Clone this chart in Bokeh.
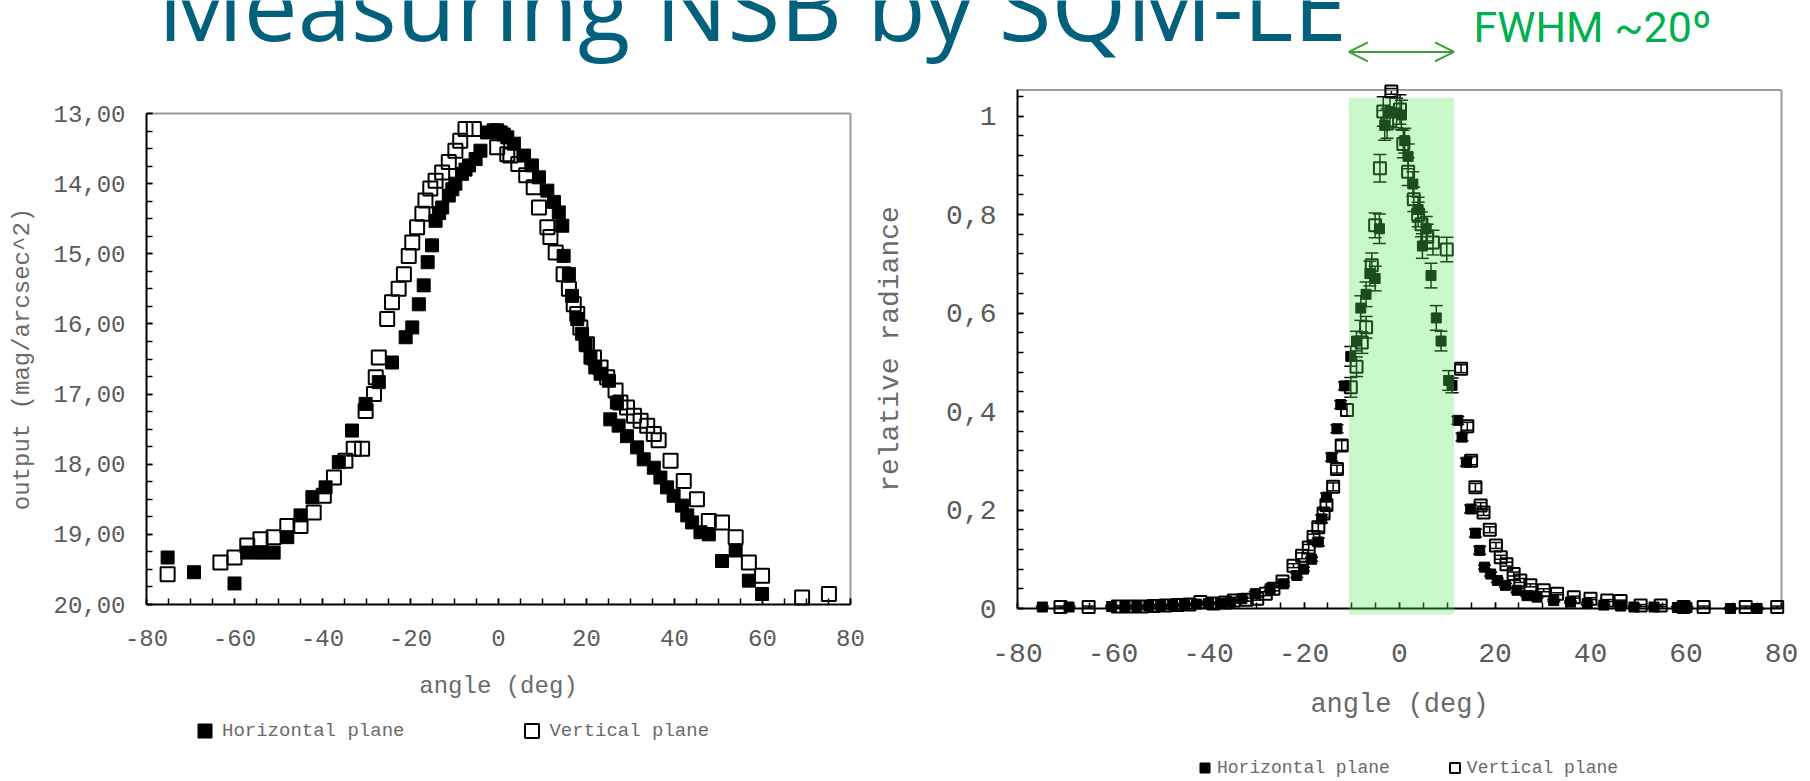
from bokeh.plotting import figure
from bokeh.models import (Range1d, LinearAxis, FixedTicker, CustomJSTickFormatter,
                          ColumnDataSource, Whisker, TeeHead, BoxAnnotation, Arrow,
                          OpenHead, Label, Legend, LegendItem)
from bokeh.embed import file_html
from bokeh.resources import INLINE

# ---------------- data ----------------
title_text = "Measuring NSB by SQM-LE"
fwhm_text = "FWHM ~20º"
fwhm_band = [-10.6, 11.4]            # angle range of shaded FWHM band (deg)
series_names = ["Horizontal plane", "Vertical plane"]
x_title = "angle (deg)"
left_y_title = "output (mag/arcsec^2)"
right_y_title = "relative radiance"
angle_ticks = [-80, -60, -40, -20, 0, 20, 40, 60, 80]
mag_ticks = [13, 14, 15, 16, 17, 18, 19, 20]
rad_ticks = [0, 0.2, 0.4, 0.6, 0.8, 1.0]

# left panel: sky brightness output (mag/arcsec^2)
mag_h_angle = [-75.2, -69.2, -60.0, -57.1, -54.1, -51.1, -48.0, -45.0, -42.3, -39.3,
               -36.3, -33.3, -30.2, -27.2, -24.2, -21.1, -19.6, -18.1, -17.0, -16.1,
               -15.1, -14.3, -13.5, -12.8, -11.3, -10.5, -9.8, -8.3, -7.5, -6.7,
               -5.2, -4.1, -2.6, -1.1, -0.3, 0.5, 1.2, 2.0, 3.5, 5.8,
               7.6, 9.2, 11.1, 12.6, 13.7, 14.5, 14.8, 16.0, 16.7, 17.9,
               19.0, 19.8, 20.9, 22.0, 23.2, 25.1, 26.9, 25.4, 27.3, 29.2,
               31.5, 33.0, 35.3, 36.8, 38.3, 39.8, 41.7, 42.9, 44.0, 45.9,
               47.8, 50.8, 53.9, 56.9, 59.9]
mag_h_value = [19.33, 19.54, 19.70, 19.26, 19.26, 19.26, 19.04, 18.73, 18.47, 18.33,
               17.97, 17.52, 17.14, 16.83, 16.55, 16.19, 16.05, 15.72, 15.45, 15.12,
               14.88, 14.53, 14.42, 14.34, 14.17, 14.08, 14.00, 13.86, 13.80, 13.74,
               13.65, 13.53, 13.27, 13.24, 13.24, 13.27, 13.30, 13.34, 13.43, 13.60,
               13.74, 13.91, 14.10, 14.26, 14.41, 14.60, 15.03, 15.29, 15.60, 15.93,
               16.14, 16.29, 16.48, 16.62, 16.71, 16.81, 17.12, 17.36, 17.45, 17.60,
               17.76, 17.93, 18.05, 18.19, 18.33, 18.45, 18.59, 18.73, 18.83, 18.97,
               19.00, 19.38, 19.23, 19.66, 19.85]
mag_v_angle = [-75.2, -63.2, -60.0, -57.1, -54.1, -51.1, -48.0, -45.0, -42.0, -39.7,
               -37.4, -34.8, -32.9, -31.0, -30.2, -28.3, -27.9, -27.2, -25.3, -24.2,
               -22.7, -21.5, -20.4, -19.6, -18.5, -17.3, -16.6, -15.5, -14.3, -12.8,
               -11.3, -9.8, -8.7, -7.5, -5.6, -0.3, 2.0, 2.7, 4.5, 6.3,
               8.0, 9.2, 11.1, 11.8, 13.0, 14.8, 16.0, 17.1, 17.9, 18.6,
               20.1, 21.7, 23.2, 24.7, 26.6, 27.7, 29.2, 30.8, 32.3, 33.8,
               35.3, 36.4, 39.1, 42.1, 45.1, 47.8, 50.8, 53.9, 56.9, 59.9,
               69.0, 75.1]
mag_v_value = [19.57, 19.40, 19.33, 19.16, 19.07, 19.04, 18.88, 18.88, 18.69, 18.45,
               18.19, 17.95, 17.78, 17.78, 17.24, 17.00, 16.76, 16.48, 15.93, 15.69,
               15.50, 15.29, 15.03, 14.84, 14.62, 14.43, 14.24, 14.07, 13.96, 13.84,
               13.69, 13.53, 13.39, 13.22, 13.22, 13.48, 13.58, 13.60, 13.72, 13.88,
               14.05, 14.34, 14.62, 14.76, 14.98, 15.29, 15.50, 15.72, 15.86, 16.05,
               16.29, 16.48, 16.62, 16.76, 16.95, 17.12, 17.19, 17.31, 17.38, 17.45,
               17.57, 17.66, 17.95, 18.24, 18.50, 18.81, 18.83, 19.04, 19.40, 19.59,
               19.90, 19.85]

# right panel: relative radiance with uncertainties
rad_h_angle = [-74.8, -69.2, -60.3, -57.5, -55.0, -52.5, -50.0, -47.5, -45.0, -42.5,
               -40.0, -37.5, -35.4, -33.0, -30.2, -27.1, -24.3, -21.5, -20.1, -18.4,
               -17.0, -16.3, -15.3, -14.2, -13.1, -12.3, -11.5, -10.2, -9.0, -8.1,
               -7.0, -6.2, -5.1, -4.2, -3.1, -2.0, -0.6, 0.4, 1.1, 1.8,
               2.8, 3.9, 4.8, 5.6, 6.6, 7.7, 8.7, 10.3, 11.0, 12.2,
               13.1, 14.0, 14.9, 15.9, 16.8, 17.8, 19.1, 20.5, 22.2, 24.6,
               26.7, 28.8, 32.3, 35.8, 39.3, 42.8, 46.3, 49.1, 53.3, 58.2,
               60.2, 69.3, 74.9]
rad_h_value = [0.003, 0.003, 0.004, 0.004, 0.004, 0.005, 0.006, 0.007, 0.008, 0.009,
               0.010, 0.011, 0.013, 0.020, 0.030, 0.040, 0.050, 0.067, 0.080, 0.100,
               0.135, 0.182, 0.226, 0.307, 0.365, 0.414, 0.452, 0.512, 0.543, 0.610,
               0.638, 0.680, 0.670, 0.771, 0.981, 1.009, 1.006, 1.002, 0.950, 0.918,
               0.862, 0.810, 0.736, 0.771, 0.676, 0.590, 0.543, 0.463, 0.453, 0.382,
               0.348, 0.297, 0.202, 0.153, 0.118, 0.084, 0.070, 0.057, 0.047, 0.037,
               0.026, 0.023, 0.016, 0.013, 0.010, 0.007, 0.005, 0.003, 0.003, 0.002,
               0.002, 0.000, 0.000]
rad_h_err = [0.002, 0.002, 0.002, 0.002, 0.002, 0.002, 0.002, 0.002, 0.002, 0.002,
             0.002, 0.002, 0.002, 0.004, 0.004, 0.004, 0.004, 0.004, 0.004, 0.004,
             0.008, 0.008, 0.008, 0.008, 0.008, 0.008, 0.008, 0.020, 0.020, 0.025,
             0.025, 0.025, 0.025, 0.030, 0.030, 0.030, 0.030, 0.030, 0.025, 0.025,
             0.025, 0.025, 0.025, 0.025, 0.025, 0.025, 0.020, 0.020, 0.015, 0.008,
             0.008, 0.008, 0.008, 0.008, 0.008, 0.004, 0.004, 0.004, 0.004, 0.004,
             0.002, 0.002, 0.002, 0.002, 0.002, 0.002, 0.002, 0.002, 0.002, 0.002,
             0.002, 0.002, 0.002]
rad_v_angle = [-71.0, -65.1, -59.0, -56.5, -54.0, -51.5, -49.0, -46.5, -44.0, -41.7,
               -39.0, -36.5, -34.7, -32.0, -29.8, -28.0, -26.4, -24.5, -22.2, -20.4,
               -19.0, -18.0, -17.0, -15.9, -15.3, -13.9, -13.1, -12.1, -11.0, -10.2,
               -9.0, -7.9, -7.0, -5.8, -5.1, -4.1, -3.4, -2.6, -1.7, 0.1,
               0.8, 1.8, 3.0, 3.9, 4.6, 5.8, 7.0, 9.9, 12.9, 14.2,
               15.0, 15.9, 17.0, 17.6, 18.9, 20.2, 21.2, 22.4, 23.9, 25.3,
               27.4, 30.2, 33.0, 36.5, 40.0, 43.5, 46.3, 50.5, 54.7, 59.5,
               63.7, 72.5, 79.1]
rad_v_value = [0.003, 0.003, 0.004, 0.004, 0.004, 0.005, 0.006, 0.007, 0.008, 0.013,
               0.010, 0.012, 0.016, 0.018, 0.020, 0.030, 0.040, 0.055, 0.087, 0.107,
               0.124, 0.145, 0.165, 0.193, 0.210, 0.247, 0.283, 0.331, 0.403, 0.449,
               0.491, 0.540, 0.571, 0.697, 0.778, 0.894, 1.009, 0.985, 1.050, 1.013,
               0.943, 0.887, 0.831, 0.800, 0.780, 0.755, 0.743, 0.729, 0.487, 0.370,
               0.300, 0.246, 0.209, 0.195, 0.160, 0.128, 0.104, 0.090, 0.070, 0.057,
               0.047, 0.037, 0.030, 0.023, 0.020, 0.016, 0.015, 0.006, 0.006, 0.003,
               0.003, 0.003, 0.003]
rad_v_err = [0.002, 0.002, 0.002, 0.002, 0.002, 0.002, 0.002, 0.002, 0.002, 0.002,
             0.002, 0.002, 0.002, 0.003, 0.003, 0.004, 0.004, 0.004, 0.004, 0.006,
             0.006, 0.006, 0.008, 0.008, 0.008, 0.008, 0.008, 0.010, 0.012, 0.020,
             0.020, 0.022, 0.022, 0.025, 0.025, 0.028, 0.030, 0.030, 0.006, 0.030,
             0.028, 0.028, 0.025, 0.025, 0.025, 0.025, 0.025, 0.025, 0.008, 0.008,
             0.008, 0.008, 0.006, 0.006, 0.006, 0.006, 0.004, 0.004, 0.004, 0.004,
             0.003, 0.003, 0.002, 0.002, 0.002, 0.002, 0.002, 0.002, 0.002, 0.002,
             0.002, 0.002, 0.002]

# ---------------- layout / style ----------------
W, H = 1810, 781
LX0, LX1, LY_TOP, LY_BOT = 146, 850, 113, 604      # left frame pixels (x -80..80, y 13..20)
RX0, RX1, RY_ZERO, RY_ONE = 1017, 1781, 608, 115.5  # right frame pixels (x -80..80, y 0..1)
R_TOP = 1.053                                        # top of right frame (data units)
ARROW_Y = 1.13                                       # FWHM arrow height (right data units)

MONO = "Liberation Mono"
TICK_COL = "#5a5a5a"
TITLE_COL = "#6a6a6a"
FRAME_COL = "#9a9a9a"
TEAL = "#03607c"
FWHM_GREEN = "#00b050"
ARROW_GREEN = "#3a9e3a"

lsx = (LX1 - LX0) / 160.0
lsy = (LY_BOT - LY_TOP) / 7.0
l_x0 = -80 - LX0 / lsx
l_ybot = 13 + (H - LY_TOP) / lsy
l_ytop = 13 - LY_TOP / lsy

rsx = (RX1 - RX0) / 160.0
rsy = (RY_ZERO - RY_ONE)
r_x0 = -80 - RX0 / rsx
r_ybot = -(H - RY_ZERO) / rsy
r_ytop = RY_ZERO / rsy

p = figure(width=W, height=H, title=None,
           x_range=Range1d(l_x0, l_x0 + W / lsx),
           y_range=Range1d(l_ybot, l_ytop),
           x_axis_location=None, y_axis_location=None,
           toolbar_location=None, output_backend="svg", min_border=0)
p.extra_x_ranges = {"rx": Range1d(r_x0, r_x0 + W / rsx)}
p.extra_y_ranges = {"ry": Range1d(r_ybot, r_ytop)}
p.outline_line_color = None
p.xgrid.visible = False
p.ygrid.visible = False
p.background_fill_color = "white"
p.border_fill_color = "white"


def style_axis(ax, tick_px, label_px, standoff, label_standoff):
    ax.axis_line_color = "black"
    ax.axis_line_width = 2
    ax.major_tick_in = 6
    ax.major_tick_out = 0
    ax.minor_tick_in = 6
    ax.minor_tick_out = 0
    ax.major_tick_line_color = "black"
    ax.minor_tick_line_color = "black"
    ax.major_tick_line_width = 1.5
    ax.minor_tick_line_width = 1.5
    ax.major_label_text_font = MONO
    ax.major_label_text_font_size = f"{tick_px}px"
    ax.major_label_text_color = TICK_COL
    ax.major_label_standoff = standoff
    ax.axis_label_text_font = MONO
    ax.axis_label_text_font_size = f"{label_px}px"
    ax.axis_label_text_font_style = "normal"
    ax.axis_label_text_color = TITLE_COL
    ax.axis_label_standoff = label_standoff


# ----- left panel frame lines (top/right) -----
p.segment(x0=[-80, 80], y0=[13, 13], x1=[80, 80], y1=[13, 20],
          line_color=FRAME_COL, line_width=2)

lx_axis = LinearAxis(fixed_location=20, bounds=(-80, 80), axis_label=x_title,
                     ticker=FixedTicker(ticks=angle_ticks, minor_ticks=list(range(-80, 81, 5))),
                     formatter=CustomJSTickFormatter(code="return tick.toFixed(0);"))
style_axis(lx_axis, 24, 24, 25, 24)
p.add_layout(lx_axis, "below")

ly_axis = LinearAxis(fixed_location=-80, bounds=(13, 20), axis_label=left_y_title,
                     ticker=FixedTicker(ticks=mag_ticks, minor_ticks=[13 + 0.25 * i for i in range(29)]),
                     formatter=CustomJSTickFormatter(code="return tick.toFixed(2).replace('.', ',');"))
style_axis(ly_axis, 24, 24, 21, 14)
p.add_layout(ly_axis, "left")

src_mv = ColumnDataSource(dict(angle=mag_v_angle, mag=mag_v_value))
src_mh = ColumnDataSource(dict(angle=mag_h_angle, mag=mag_h_value))
r_mv = p.scatter("angle", "mag", source=src_mv, marker="square", size=14,
                 fill_color=None, line_color="black", line_width=2)
r_mh = p.scatter("angle", "mag", source=src_mh, marker="square", size=13,
                 fill_color="black", line_color="black", line_width=1)

leg_l = Legend(items=[LegendItem(label=series_names[0], renderers=[r_mh]),
                      LegendItem(label=series_names[1], renderers=[r_mv])],
               orientation="horizontal", location=(187, 33), padding=0, margin=0,
               spacing=110, glyph_width=35, glyph_height=35, label_standoff=-9,
               label_text_font=MONO, label_text_font_size="19px", label_text_color=TITLE_COL,
               background_fill_alpha=0, border_line_color=None)
p.add_layout(leg_l)

# ----- right panel -----
p.segment(x0=[-80, 80], y0=[R_TOP, 0], x1=[80, 80], y1=[R_TOP, R_TOP],
          x_range_name="rx", y_range_name="ry", line_color=FRAME_COL, line_width=2)

rx_axis = LinearAxis(x_range_name="rx", y_range_name="ry", fixed_location=0, bounds=(-80, 80),
                     axis_label=x_title,
                     ticker=FixedTicker(ticks=angle_ticks, minor_ticks=list(range(-80, 81, 5))),
                     formatter=CustomJSTickFormatter(code="return tick.toFixed(0);"))
style_axis(rx_axis, 28, 27, 35, 25)
p.add_layout(rx_axis, "below")

ry_axis = LinearAxis(x_range_name="rx", y_range_name="ry", fixed_location=-80, bounds=(0, R_TOP),
                     axis_label=right_y_title,
                     ticker=FixedTicker(ticks=rad_ticks, minor_ticks=[0.04 * i for i in range(27)]),
                     formatter=CustomJSTickFormatter(
                         code="const s = (Math.round(tick*10)/10).toString(); return s.replace('.', ',');"))
style_axis(ry_axis, 28, 28, 21, 37)
p.add_layout(ry_axis, "left")

src_rv = ColumnDataSource(dict(angle=rad_v_angle, rad=rad_v_value,
                               lo=[v - e for v, e in zip(rad_v_value, rad_v_err)],
                               hi=[v + e for v, e in zip(rad_v_value, rad_v_err)]))
src_rh = ColumnDataSource(dict(angle=rad_h_angle, rad=rad_h_value,
                               lo=[v - e for v, e in zip(rad_h_value, rad_h_err)],
                               hi=[v + e for v, e in zip(rad_h_value, rad_h_err)]))

for src in (src_rv, src_rh):
    w = Whisker(source=src, base="angle", lower="lo", upper="hi", dimension="height",
                x_range_name="rx", y_range_name="ry", line_color="black", line_width=1.5,
                upper_head=TeeHead(size=13, line_color="black", line_width=1.5),
                lower_head=TeeHead(size=13, line_color="black", line_width=1.5))
    w.level = "underlay"
    p.add_layout(w)

r_rv = p.scatter("angle", "rad", source=src_rv, x_range_name="rx", y_range_name="ry",
                 marker="square", size=12, fill_color=None, line_color="black", line_width=2)
r_rh = p.scatter("angle", "rad", source=src_rh, x_range_name="rx", y_range_name="ry",
                 marker="square", size=10, fill_color="black", line_color="black", line_width=1)

band = BoxAnnotation(left=fwhm_band[0], right=fwhm_band[1], bottom=-0.012, top=1.037,
                     x_range_name="rx", y_range_name="ry",
                     fill_color=(94, 233, 94), fill_alpha=0.32, line_color=None, level="overlay")
p.add_layout(band)

p.add_layout(Arrow(x_start=fwhm_band[0], x_end=fwhm_band[1], y_start=ARROW_Y, y_end=ARROW_Y,
                   x_range_name="rx", y_range_name="ry", line_color=ARROW_GREEN, line_width=2,
                   start=OpenHead(size=19, line_color=ARROW_GREEN, line_width=2),
                   end=OpenHead(size=19, line_color=ARROW_GREEN, line_width=2)))

leg_r = Legend(items=[LegendItem(label=series_names[0], renderers=[r_rh]),
                      LegendItem(label=series_names[1], renderers=[r_rv])],
               orientation="horizontal", location=(1192, 1), padding=0, margin=0,
               spacing=52, glyph_width=25, glyph_height=25, label_standoff=-7,
               label_text_font=MONO, label_text_font_size="18px", label_text_color=TITLE_COL,
               background_fill_alpha=0, border_line_color=None)
p.add_layout(leg_r)

# ----- slide texts -----
p.add_layout(Label(x=157, y=H - 3, x_units="screen", y_units="screen", text=title_text,
                   text_font="Open Sans", text_font_size="96px", text_color=TEAL,
                   text_baseline="alphabetic", text_align="left"))
p.add_layout(Label(x=1473, y=H - 26, x_units="screen", y_units="screen", text=fwhm_text,
                   text_font="Roboto", text_font_size="43px", text_color=FWHM_GREEN,
                   text_baseline="alphabetic", text_align="left"))

open("out.html", "w").write(file_html(p, INLINE))
